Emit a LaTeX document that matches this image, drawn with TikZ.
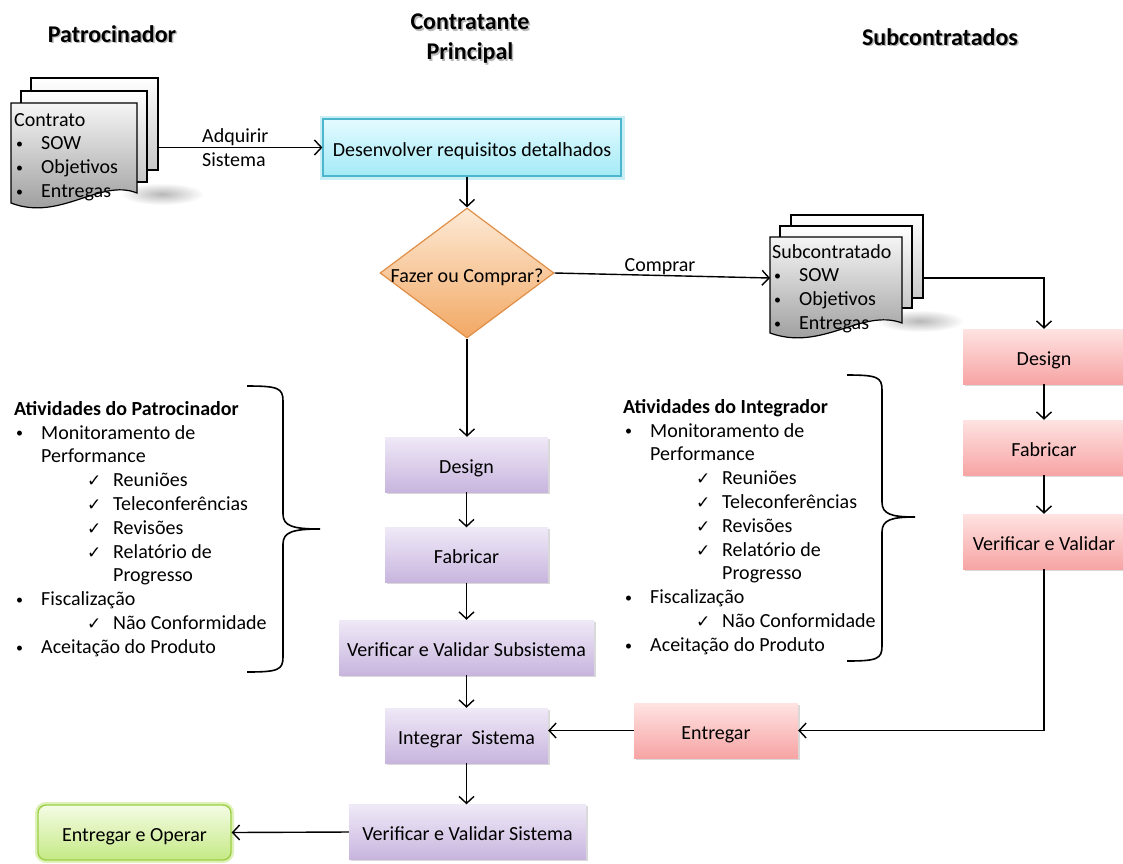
\documentclass[tikz,border=0pt]{standalone}
\usepackage{fontspec}
\setmainfont{Carlito}
\newfontfamily\symfont{DejaVu Sans}
\usetikzlibrary{arrows.meta,shapes.geometric,shadows,calc}

\definecolor{blueTop}{HTML}{E4FBFF}
\definecolor{blueBot}{HTML}{A3EAF6}
\definecolor{blueEdge}{HTML}{4CB6CC}
\definecolor{blueGlow}{HTML}{C9EEF5}
\definecolor{orTop}{HTML}{FDEAD6}
\definecolor{orBot}{HTML}{F2A864}
\definecolor{orEdge}{HTML}{E08E46}
\definecolor{puTop}{HTML}{EFE9F7}
\definecolor{puBot}{HTML}{C8B5DE}
\definecolor{piTop}{HTML}{FEE3E2}
\definecolor{piBot}{HTML}{F7A4A4}
\definecolor{grTop}{HTML}{F4FCE4}
\definecolor{grBot}{HTML}{C5E985}
\definecolor{grEdge}{HTML}{9CCF45}
\definecolor{grGlow}{HTML}{DDF1B8}

\newcommand\bl[1]{\makebox[27pt][l]{\hspace*{2pt}\raisebox{1.2pt}{\fontsize{14}{14}\selectfont •}}#1}
\newcommand\ck[1]{\hspace*{73pt}\makebox[26pt][l]{\symfont\fontsize{17}{24}\selectfont ✓}#1}

\tikzset{
  body/.style={font=\fontsize{20}{23.8}\selectfont},
  boxtxt/.style={body, text height=20pt, text depth=3pt},
  hdr/.style={font=\fontsize{24}{30}\selectfont\bfseries, align=center, inner sep=0pt},
  hdrsh/.style={hdr, text=black!28},
  listtxt/.style={body, inner sep=0pt, align=left},
  arr/.style={draw=black, line width=1.4pt, -{Straight Barb[length=7pt,width=15pt,line width=1.4pt]}},
  pageback/.style={draw=black, line width=1.2pt, top color=white, bottom color=black!22, inner sep=0pt},
  purplebox/.style={boxtxt, top color=puTop, bottom color=puBot, draw=none, minimum height=55pt,
     drop shadow={opacity=0.3, shadow xshift=1.5pt, shadow yshift=-1.5pt}},
  pinkbox/.style={boxtxt, top color=piTop, bottom color=piBot, draw=none, minimum height=55pt,
     drop shadow={opacity=0.3, shadow xshift=1.5pt, shadow yshift=-1.5pt}},
  bluebox/.style={boxtxt, top color=blueTop, bottom color=blueBot, draw=blueEdge, line width=1.2pt,
     preaction={draw=blueGlow, line width=7pt}},
  greenbox/.style={boxtxt, top color=grTop, bottom color=grBot, draw=grEdge, line width=1.4pt, rounded corners=8pt,
     preaction={draw=grGlow, line width=6pt}},
  diam/.style={diamond, top color=orTop, bottom color=orBot, draw=orEdge, line width=1.2pt, inner sep=0pt,
     minimum width=174pt, minimum height=130pt},
  brace/.style={draw=black, line width=1.6pt}
}

\begin{document}
\begin{tikzpicture}[x=1pt, y=-1pt]
\useasboundingbox (0,0) rectangle (1123,863);

% headers
\node[hdrsh] at (113.5,35.5) {Patrocinador};
\node[hdr] (h1) at (112,34) {Patrocinador};
\node[hdrsh] at (471.5,40.5) {Contratante\\Principal};
\node[hdr] (h2) at (470,39) {Contratante\\Principal};
\node[hdrsh] at (941.5,38.5) {Subcontratados};
\node[hdr] (h3) at (940,37) {Subcontratados};

% contract stack
\shade[inner color=black!28, outer color=white] (162,194) ellipse (42pt and 11pt);
\node[pageback, minimum width=127pt, minimum height=92pt] (c3) at (94.5,124) {};
\node[pageback, minimum width=126pt, minimum height=91pt] (c2) at (84,136.5) {};
\shade[top color=black!4, bottom color=black!42, draw=black, line width=1.2pt]
  (11,103) -- (137,103) -- (137,193) .. controls (100,178) and (60,222) .. (11,203) -- cycle;
\node[listtxt, anchor=north west] (ctext) at (14,113) {Contrato\\ \bl{SOW}\\ \bl{Objetivos}\\ \bl{Entregas}};

% subcontract stack
\shade[inner color=black!28, outer color=white] (920,321) ellipse (44pt and 11pt);
\node[pageback, minimum width=132pt, minimum height=83pt] (s3) at (857,256.5) {};
\node[pageback, minimum width=132pt, minimum height=82pt] (s2) at (846,267) {};
\shade[top color=black!4, bottom color=black!42, draw=black, line width=1.2pt]
  (770,237) -- (902,237) -- (902,323) .. controls (862,308) and (822,352) .. (770,333) -- cycle;
\node[listtxt, anchor=north west] (stext) at (772,244) {Subcontratado\\ \bl{SOW}\\ \bl{Objetivos}\\ \bl{Entregas}};
\coordinate (sin) at (770,278);

% main column
\node[bluebox, minimum width=298pt, minimum height=57pt] (req) at (472,147.5) {Desenvolver requisitos detalhados};
\node[diam] (dia) at (467,273) {};
\node[body, inner sep=0pt] (diatext) at (467,277) {Fazer ou Comprar?};

\node[purplebox, minimum width=163pt] (d1) at (466.5,464.5) {Design};
\node[purplebox, minimum width=163pt] (f1) at (466.5,555) {Fabricar};
\node[purplebox, minimum width=255pt] (v1) at (466.5,647.5) {Verificar e Validar Subsistema};
\node[purplebox, minimum width=163pt] (integ) at (466.5,735.5) {Integrar\ \ Sistema};
\node[purplebox, minimum width=237pt] (vs) at (467.5,832) {Verificar e Validar Sistema};
\node[greenbox, minimum width=193pt, minimum height=55pt] (op) at (134.5,832.5) {Entregar e Operar};

% right column
\node[pinkbox, minimum width=162pt] (pd) at (1044,356.5) {Design};
\node[pinkbox, minimum width=162pt] (pf) at (1044,447.5) {Fabricar};
\node[pinkbox, minimum width=162pt] (pv) at (1044,541.5) {Verificar e Validar};
\node[pinkbox, minimum width=164pt] (ent) at (716,730.5) {Entregar};

% connectors
\draw[arr] (c3.east |- req.west) -- (req.west);
\node[listtxt, anchor=west] (lbl1) at (202,148) {Adquirir\\Sistema};
\draw[arr] (req.south -| dia.north) -- (dia.north);
\draw[arr] (dia.east) -- (sin);
\node[body, inner sep=0pt, anchor=base] (lbl2) at (660,271) {Comprar};
\draw[arr] (s3.east |- sin) -| (pd.north);
\draw[arr] (pd) -- (pf);
\draw[arr] (pf) -- (pv);
\draw[arr] (pv.south) |- (ent.east);
\draw[arr] (ent.west) -- (ent.west -| integ.east);
\draw[arr] (dia.south) -- (dia.south |- d1.north);
\draw[arr] (d1) -- (f1);
\draw[arr] (f1) -- (v1);
\draw[arr] (v1) -- (integ);
\draw[arr] (integ.south) -- (integ.south |- vs.north);
\draw[arr] (vs.west) -- (op.east);

% activity lists
\node[listtxt, anchor=north west] (patlist) at (14,401) {\textbf{Atividades do Patrocinador}\\ \bl{Monitoramento de}\\ \hspace*{27pt}Performance\\ \ck{Reuniões}\\ \ck{Teleconferências}\\ \ck{Revisões}\\ \ck{Relatório de}\\ \hspace*{99pt}Progresso\\ \bl{Fiscalização}\\ \ck{Não Conformidade}\\ \bl{Aceitação do Produto}};
\node[listtxt, anchor=north west] (intlist) at (623,399) {\textbf{Atividades do Integrador}\\ \bl{Monitoramento de}\\ \hspace*{27pt}Performance\\ \ck{Reuniões}\\ \ck{Teleconferências}\\ \ck{Revisões}\\ \ck{Relatório de}\\ \hspace*{99pt}Progresso\\ \bl{Fiscalização}\\ \ck{Não Conformidade}\\ \bl{Aceitação do Produto}};

% braces
\draw[brace] (247,386) .. controls (278,386) and (283,388) .. (283,401) -- (283,514)
  .. controls (283,526) and (293,529) .. (320,529)
  .. controls (293,529) and (283,532) .. (283,544) -- (283,657)
  .. controls (283,670) and (278,672) .. (247,672);
\draw[brace] (847,375) .. controls (877,375) and (882,377) .. (882,390) -- (882,502)
  .. controls (882,514) and (891,517) .. (915,517)
  .. controls (891,517) and (882,520) .. (882,532) -- (882,646)
  .. controls (882,659) and (877,661) .. (847,661);
\end{tikzpicture}
\end{document}
